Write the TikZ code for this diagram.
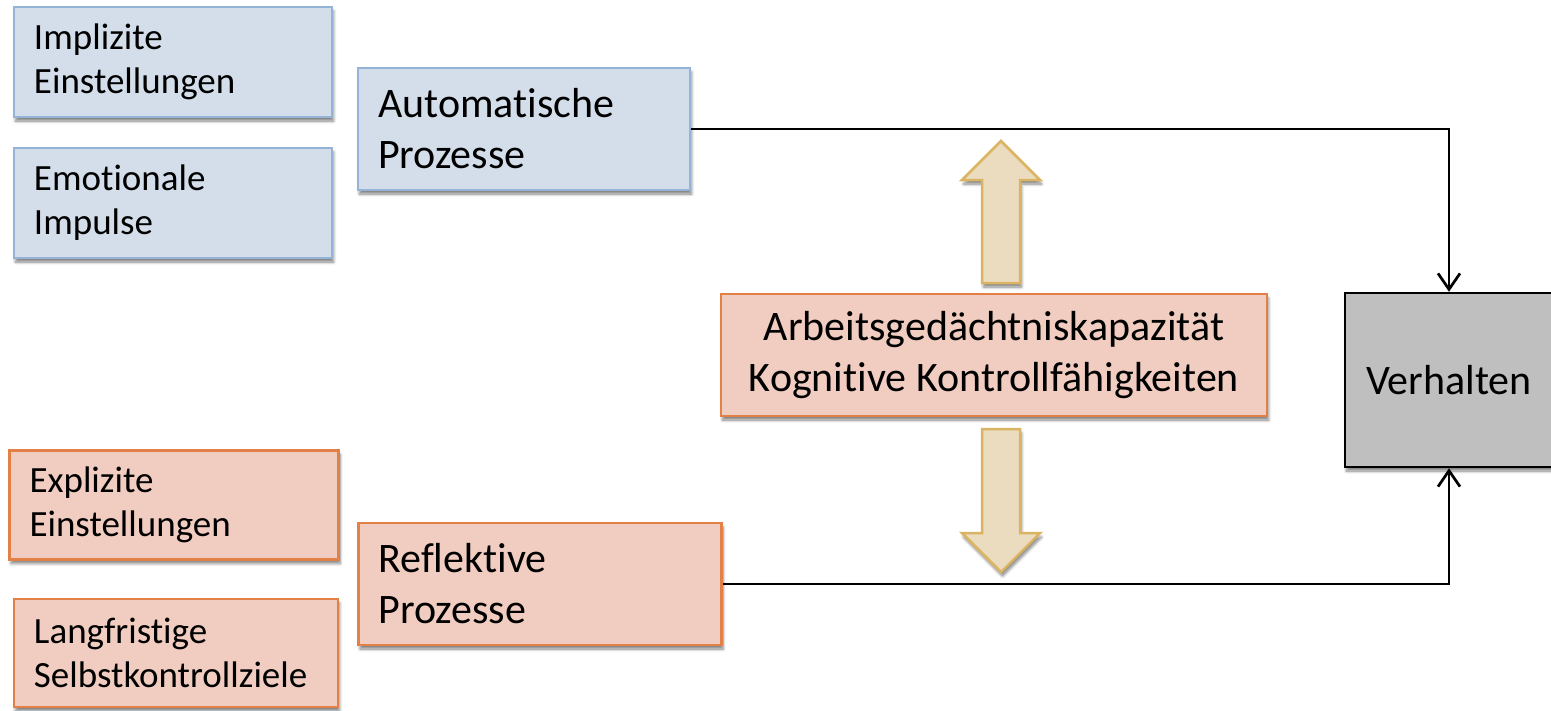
\documentclass[tikz,border=0pt]{standalone}
\usepackage{fontspec}
\setmainfont{Carlito}[Ligatures=NoCommon]
\usetikzlibrary{arrows.meta, shadows.blur}
\definecolor{bluefill}{RGB}{211,222,234}
\definecolor{blueline}{RGB}{149,179,215}
\definecolor{orangefill}{RGB}{240,205,192}
\definecolor{orangeline}{RGB}{226,128,72}
\definecolor{tanfill}{RGB}{235,220,192}
\definecolor{tanline}{RGB}{218,180,98}
\definecolor{grayfill}{RGB}{191,191,191}

\tikzset{
  boxshadow/.style={blur shadow={shadow xshift=1.5pt, shadow yshift=-4pt, shadow blur steps=6, shadow blur radius=3pt, shadow opacity=50}},
  box/.style={rectangle, inner xsep=20pt, inner ysep=0pt, align=left, boxshadow},
  bluebox/.style={box, fill=bluefill, draw=blueline, line width=2pt},
  orangebox/.style={box, fill=orangefill, draw=orangeline, line width=2.5pt},
  smalltext/.style={font=\fontsize{37}{44}\selectfont},
  bigtext/.style={font=\fontsize{42}{51}\selectfont},
  blockarrow/.style={fill=tanfill, draw=tanline, line width=2.5pt, line join=miter, boxshadow},
  conn/.style={line width=2.7pt, -{Straight Barb[length=16pt, width=22pt]}}
}

\begin{document}
\begin{tikzpicture}[x=1pt, y=-1pt]
  \useasboundingbox (0,0) rectangle (1551,710);
  % automatic side
  \node[bluebox, smalltext, text width=278pt, minimum height=110pt] (impl) at (173,62) {Implizite\\Einstellungen};
  \node[bluebox, smalltext, text width=278pt, minimum height=110pt] (emo) at (173,203) {Emotionale\\Impulse};
  \node[bluebox, bigtext, text width=292pt, minimum height=122pt] (auto) at (524,129) {Automatische\\Prozesse};
  % reflective side
  \node[orangebox, smalltext, text width=289pt, minimum height=109pt] (expl) at (174,505) {Explizite\\Einstellungen};
  \node[orangebox, smalltext, text width=284pt, minimum height=108pt] (lang) at (176,653) {Langfristige\\Selbstkontrollziele};
  \node[orangebox, bigtext, text width=323pt, minimum height=122pt] (refl) at (540,584) {Reflektive\\Prozesse};
  \node[orangebox, bigtext, align=center, minimum width=546pt, minimum height=122pt] (arb) at (994,355) {Arbeitsgedächtniskapazität\\Kognitive Kontrollfähigkeiten};
  \node[box, bigtext, align=center, fill=grayfill, draw=black, line width=2.5pt, minimum width=208pt, minimum height=174pt] (verh) at (1449,380) {Verhalten};
  % block arrows
  \draw[blockarrow] (982,283) -- (982,180) -- (962,180) -- (1001,141) -- (1040,180) -- (1020,180) -- (1020,283) -- cycle;
  \draw[blockarrow] (982,429) -- (982,533) -- (962,533) -- (1001,572) -- (1040,533) -- (1020,533) -- (1020,429) -- cycle;
  \draw[conn] (auto.east) -| (verh.north);
  \draw[conn] (refl.east) -| (verh.south);
\end{tikzpicture}
\end{document}
